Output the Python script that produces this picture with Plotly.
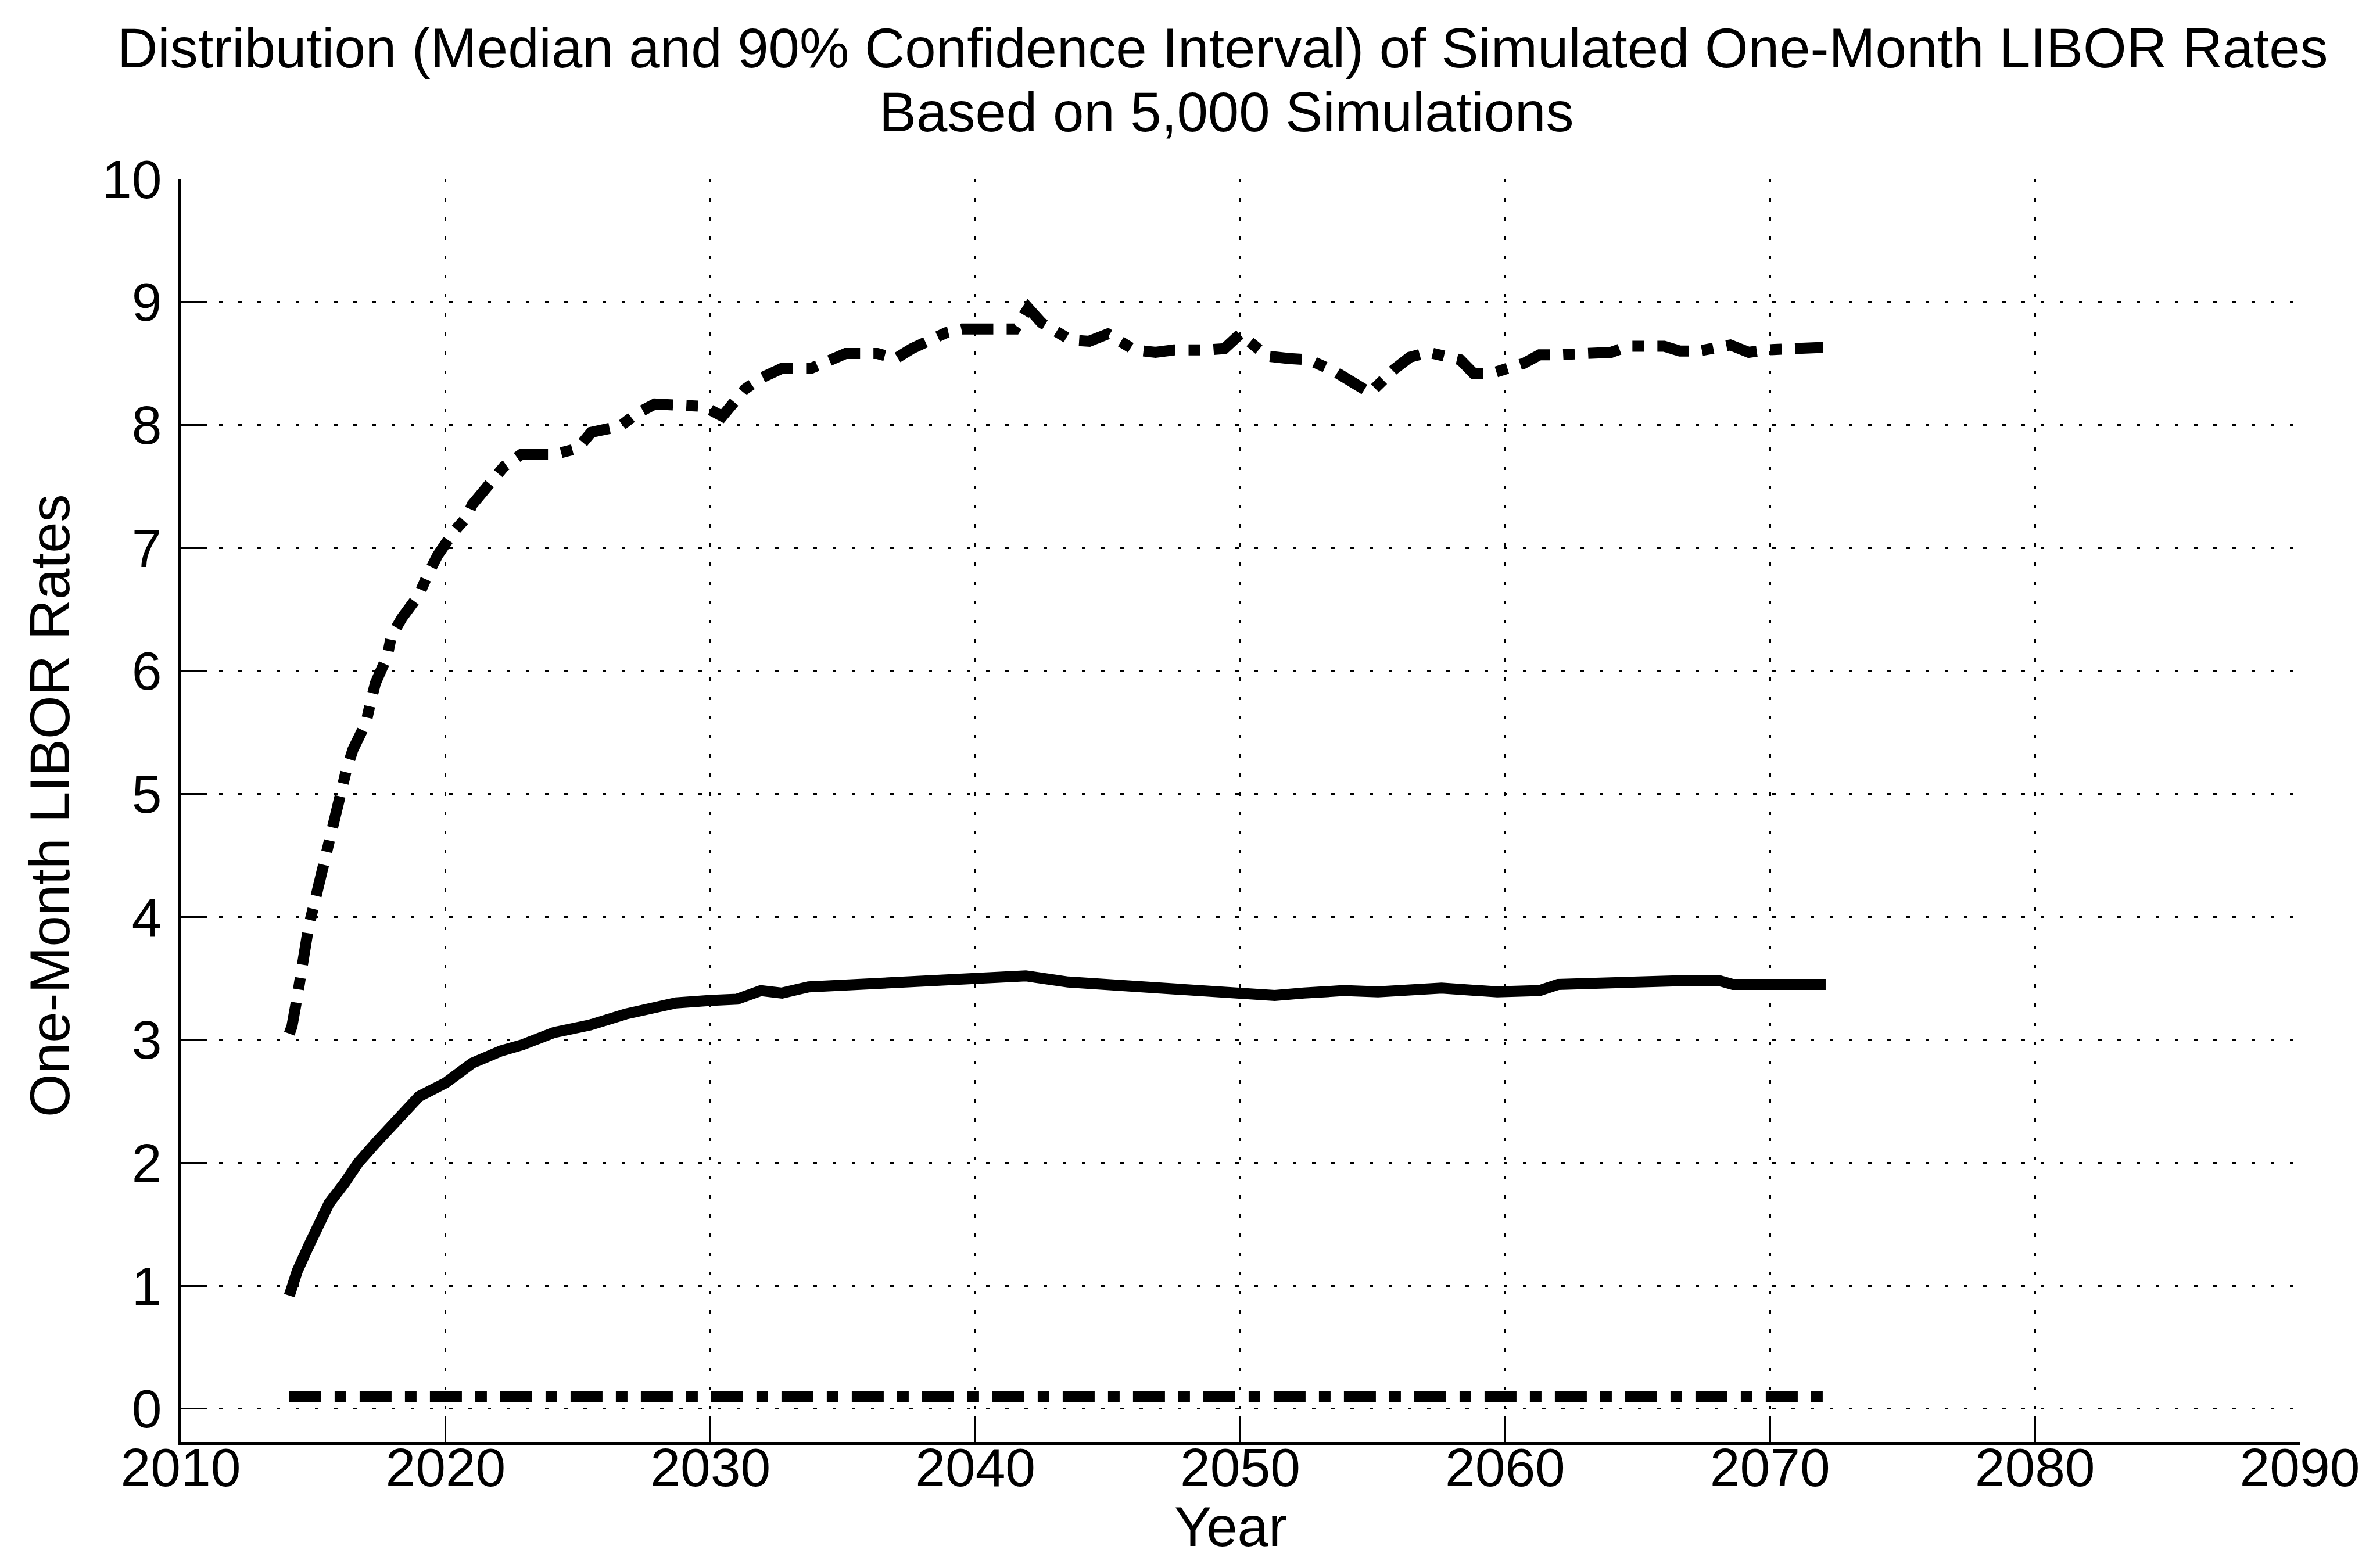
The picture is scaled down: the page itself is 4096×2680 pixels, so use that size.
import plotly.graph_objects as go

# ---------------- data ----------------
upper_years = [2014.1, 2014.2, 2014.4, 2014.5, 2014.65, 2014.83, 2015.0, 2015.2, 2015.5, 2015.6,
               2015.75, 2016.1, 2016.25, 2016.5, 2017.0, 2017.15, 2017.35, 2017.8, 2017.95, 2018.35,
               2019.0, 2019.3, 2019.7, 2020.3, 2020.8, 2021.0, 2021.75, 2022.2, 2022.85, 2024.1,
               2025.0, 2025.5, 2026.6, 2027.2, 2027.9, 2029.05, 2029.75, 2030.45, 2031.3, 2031.9,
               2032.7, 2033.8, 2034.5, 2035.1, 2036.3, 2037.0, 2037.6, 2038.9, 2039.5, 2040.1,
               2041.5, 2042.0, 2042.5, 2043.6, 2044.3, 2045.0, 2046.0, 2046.8, 2047.5, 2048.8,
               2049.4, 2050.0, 2051.0, 2051.8, 2052.6, 2053.6, 2054.2, 2054.9, 2055.8, 2056.4,
               2057.1, 2058.3, 2058.8, 2059.5, 2060.7, 2061.3, 2062.0, 2063.3, 2064.0, 2064.65,
               2066.0, 2066.6, 2067.3, 2068.5, 2069.2, 2069.85, 2071.2, 2072.0]
upper_values = [3.05, 3.11, 3.35, 3.52, 3.69, 3.92, 4.07, 4.26, 4.48, 4.64,
                4.79, 5.03, 5.19, 5.36, 5.58, 5.73, 5.90, 6.12, 6.28, 6.43,
                6.62, 6.77, 6.94, 7.13, 7.25, 7.35, 7.55, 7.66, 7.76, 7.76,
                7.81, 7.94, 7.99, 8.09, 8.17, 8.17, 8.15, 8.07, 8.29, 8.38,
                8.46, 8.46, 8.53, 8.58, 8.58, 8.54, 8.62, 8.75, 8.78, 8.78,
                8.78, 8.95, 8.83, 8.69, 8.68, 8.74, 8.61, 8.59, 8.61, 8.61,
                8.62, 8.74, 8.56, 8.54, 8.53, 8.43, 8.35, 8.26, 8.45, 8.55,
                8.59, 8.53, 8.42, 8.42, 8.50, 8.57, 8.57, 8.57, 8.59, 8.64,
                8.64, 8.60, 8.60, 8.65, 8.59, 8.61, 8.61, 8.63]

median_years = [2014.1, 2014.4, 2014.8, 2015.2, 2015.6, 2016.2, 2016.7, 2017.4, 2018.2, 2019.0,
                2020.0, 2021.0, 2022.1, 2022.9, 2024.1, 2025.45, 2026.8, 2028.7, 2030.0, 2031.0,
                2031.9, 2032.7, 2033.7, 2035.6, 2036.9, 2039.0, 2040.8, 2041.9, 2043.5, 2045.3,
                2046.6, 2048.2, 2049.7, 2051.3, 2052.4, 2053.9, 2055.2, 2057.6, 2059.7, 2061.3,
                2062.0, 2063.1, 2064.4, 2066.5, 2068.1, 2068.6, 2070.0, 2072.1]
median_values = [0.92, 1.12, 1.31, 1.51, 1.67, 1.84, 2.00, 2.17, 2.37, 2.54,
                 2.65, 2.81, 2.91, 2.96, 3.06, 3.12, 3.21, 3.30, 3.32, 3.33,
                 3.40, 3.38, 3.43, 3.45, 3.47, 3.48, 3.52, 3.52, 3.47, 3.44,
                 3.44, 3.41, 3.37, 3.36, 3.38, 3.40, 3.39, 3.42, 3.39, 3.40,
                 3.45, 3.46, 3.48, 3.48, 3.48, 3.45, 3.45, 3.45]

lower_years = [2014.1, 2020.0, 2030.0, 2040.0, 2050.0, 2060.0, 2072.0]
lower_values = [0.10, 0.10, 0.10, 0.10, 0.10, 0.10, 0.10]

x_ticks = [2010, 2020, 2030, 2040, 2050, 2060, 2070, 2080, 2090]
y_ticks = [0, 1, 2, 3, 4, 5, 6, 7, 8, 9, 10]

title_line1 = "Distribution (Median and 90% Confidence Interval) of Simulated One-Month LIBOR Rates"
title_line2 = "Based on 5,000 Simulations"
x_title = "Year"
y_title = "One-Month LIBOR Rates"

# ---------------- styling ----------------
FONT = "Liberation Sans, Arial, Helvetica, sans-serif"
FS_TEXT = 96
FS_TICK = 93
LW = 19
DASHDOT = "55px,23px,20px,23px"

fig = go.Figure()
fig.add_trace(go.Scatter(x=upper_years, y=upper_values, mode="lines",
                         line=dict(color="black", width=LW, dash=DASHDOT),
                         showlegend=False, hoverinfo="skip"))
fig.add_trace(go.Scatter(x=median_years, y=median_values, mode="lines",
                         line=dict(color="black", width=LW),
                         showlegend=False, hoverinfo="skip"))
fig.add_trace(go.Scatter(x=lower_years, y=lower_values, mode="lines",
                         line=dict(color="black", width=LW, dash=DASHDOT),
                         showlegend=False, hoverinfo="skip"))

axis_common = dict(
    showgrid=True, gridcolor="black", gridwidth=3, griddash="6px,27px",
    showline=True, linecolor="black", linewidth=5, mirror=False,
    ticks="inside", ticklen=45, tickwidth=3, tickcolor="black",
    zeroline=False,
    tickfont=dict(family=FONT, size=FS_TICK, color="black"),
)

fig.update_xaxes(range=[2010, 2090], tickmode="array", tickvals=x_ticks,
                 ticktext=[str(v) for v in x_ticks], ticklabelstandoff=-41, **axis_common)
fig.update_yaxes(range=[-0.27, 10], tickmode="array", tickvals=y_ticks,
                 ticktext=[str(v) for v in y_ticks], ticklabelstandoff=9, **axis_common)

annotations = [
    dict(text=title_line1, x=0.5, y=1.1035, xref="paper", yref="paper",
         xanchor="center", yanchor="middle", xshift=-30, showarrow=False,
         font=dict(family=FONT, size=FS_TEXT, color="black")),
    dict(text=title_line2, x=0.5, y=1.0529, xref="paper", yref="paper",
         xanchor="center", yanchor="middle", xshift=-24, showarrow=False,
         font=dict(family=FONT, size=FS_TEXT, color="black")),
    dict(text=x_title, x=0.4955, y=-0.0745, xref="paper", yref="paper",
         xanchor="center", yanchor="middle", yshift=16, showarrow=False,
         font=dict(family=FONT, size=FS_TEXT, color="black")),
    dict(text=y_title, x=-0.0617, y=0.5037, xref="paper", yref="paper",
         xanchor="center", yanchor="middle", textangle=-90, showarrow=False,
         font=dict(family=FONT, size=FS_TEXT, color="black")),
]

fig.update_layout(
    width=4096, height=2680,
    margin=dict(l=303, r=146, t=300, b=206, pad=0),
    paper_bgcolor="white", plot_bgcolor="white",
    annotations=annotations,
    showlegend=False,
)

fig.write_html("out.html", include_plotlyjs=True, full_html=True,
               config=dict(displayModeBar=False))
